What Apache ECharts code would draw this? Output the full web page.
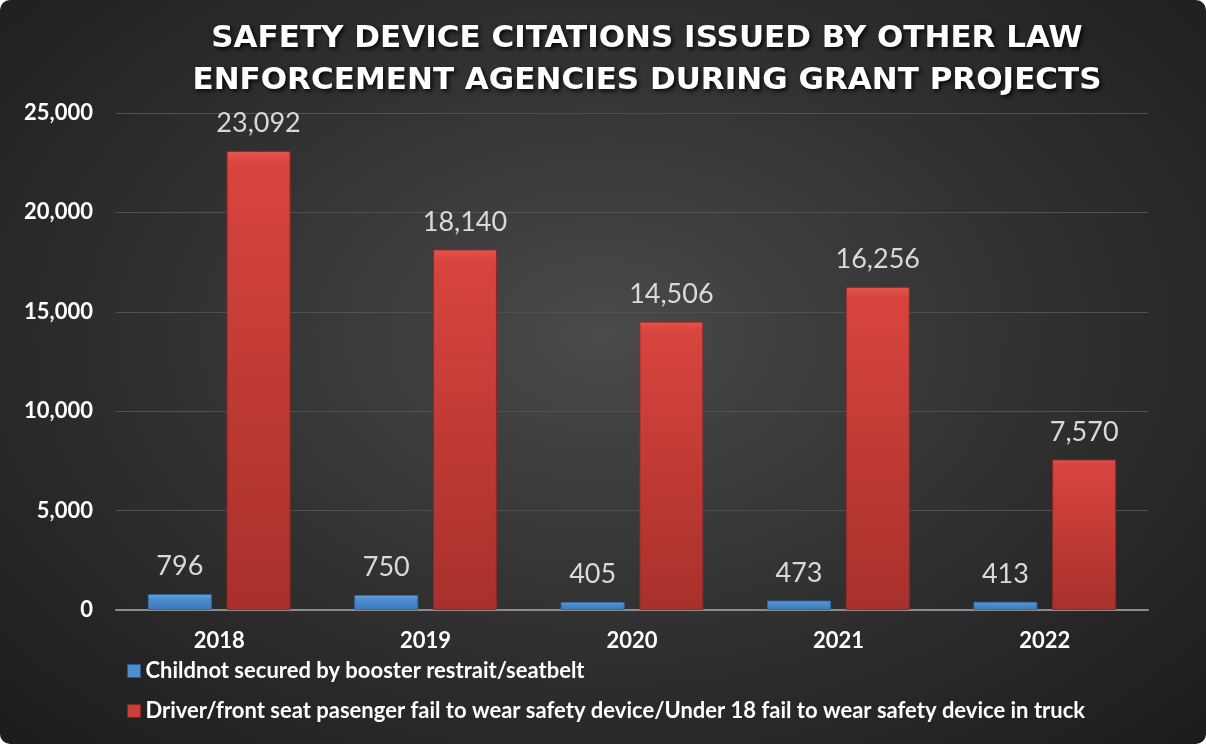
<!DOCTYPE html>
<html><head><meta charset="utf-8">
<script src="https://cdn.jsdelivr.net/npm/echarts@6/dist/echarts.min.js"></script>
<style>
html,body{margin:0;padding:0;background:#fff;}
#c{width:1206px;height:744px;border-radius:10px;overflow:hidden;
background:radial-gradient(ellipse at 50% 45%, #4a4a4a 0%, #383838 35%, #262626 75%, #1c1c1c 100%);}
</style></head>
<body><div id="c"></div>
<script>
const categories = ['2018','2019','2020','2021','2022'];
const childValues = [796, 750, 405, 473, 413];
const driverValues = [23092, 18140, 14506, 16256, 7570];
const seriesNames = ['Childnot secured by booster restrait/seatbelt',
  'Driver/front seat pasenger fail to wear safety device/Under 18 fail to wear safety device in truck'];
const titleText = 'SAFETY DEVICE CITATIONS ISSUED BY OTHER LAW\nENFORCEMENT AGENCIES DURING GRANT PROJECTS';

const chart = echarts.init(document.getElementById('c'), null, {renderer:'canvas'});
const blueGrad = new echarts.graphic.LinearGradient(0,0,0,1,[{offset:0,color:'#6aaeea'},{offset:0.25,color:'#4f8fd0'},{offset:1,color:'#3c78b8'}]);
const redGrad = new echarts.graphic.LinearGradient(0,0,0,1,[{offset:0,color:'#e8534d'},{offset:0.03,color:'#d8443e'},{offset:1,color:'#a8302c'}]);
const fmt = v => v.toLocaleString('en-US');
chart.setOption({
  backgroundColor:'transparent',
  title:{text:titleText,left:642,textAlign:'center',top:13,
    textStyle:{color:'#fff',fontFamily:'DejaVu Sans',fontWeight:'bold',fontSize:31,lineHeight:42,
      textShadowColor:'rgba(0,0,0,0.9)',textShadowBlur:4,textShadowOffsetX:2,textShadowOffsetY:2}},
  grid:{left:116,right:58,top:113,bottom:134,containLabel:false},
  legend:{orient:'vertical',left:122,top:655,itemGap:18,itemWidth:13,itemHeight:13,
    icon:'rect',
    textStyle:{color:'#fff',fontFamily:'Lato',fontWeight:'bold',fontSize:22},
    data:[{name:seriesNames[0],itemStyle:{color:'#4f8fd0',borderColor:'#2a5a90',borderWidth:1}},
          {name:seriesNames[1],itemStyle:{color:'#c8403a',borderColor:'#802520',borderWidth:1}}]},
  xAxis:{type:'category',data:categories,
    axisLine:{lineStyle:{color:'#8c8c8c',width:2}},axisTick:{show:false},
    axisLabel:{color:'#fff',fontFamily:'Lato',fontWeight:'bold',fontSize:22,margin:20}},
  yAxis:{type:'value',min:0,max:25000,interval:5000,
    axisLine:{show:false},axisTick:{show:false},
    splitLine:{lineStyle:{color:'#505050',width:1}},
    axisLabel:{color:'#fff',fontFamily:'Lato',fontWeight:'bold',fontSize:22,margin:23,formatter:v=>fmt(v)}},
  series:[
    {name:seriesNames[0],type:'bar',data:childValues,barWidth:64,barGap:'23%',
      itemStyle:{color:blueGrad,borderColor:'#2f6aa8',borderWidth:1},
      label:{show:true,position:'top',distance:14,color:'#d9d9d9',fontFamily:'Lato',fontSize:27,formatter:p=>fmt(p.value)}},
    {name:seriesNames[1],type:'bar',data:driverValues,barWidth:64,
      itemStyle:{color:redGrad,borderColor:'#8a2a26',borderWidth:1},
      label:{show:true,position:'top',distance:14,color:'#d9d9d9',fontFamily:'Lato',fontSize:27,formatter:p=>fmt(p.value)}}
  ]
});
</script></body></html>
